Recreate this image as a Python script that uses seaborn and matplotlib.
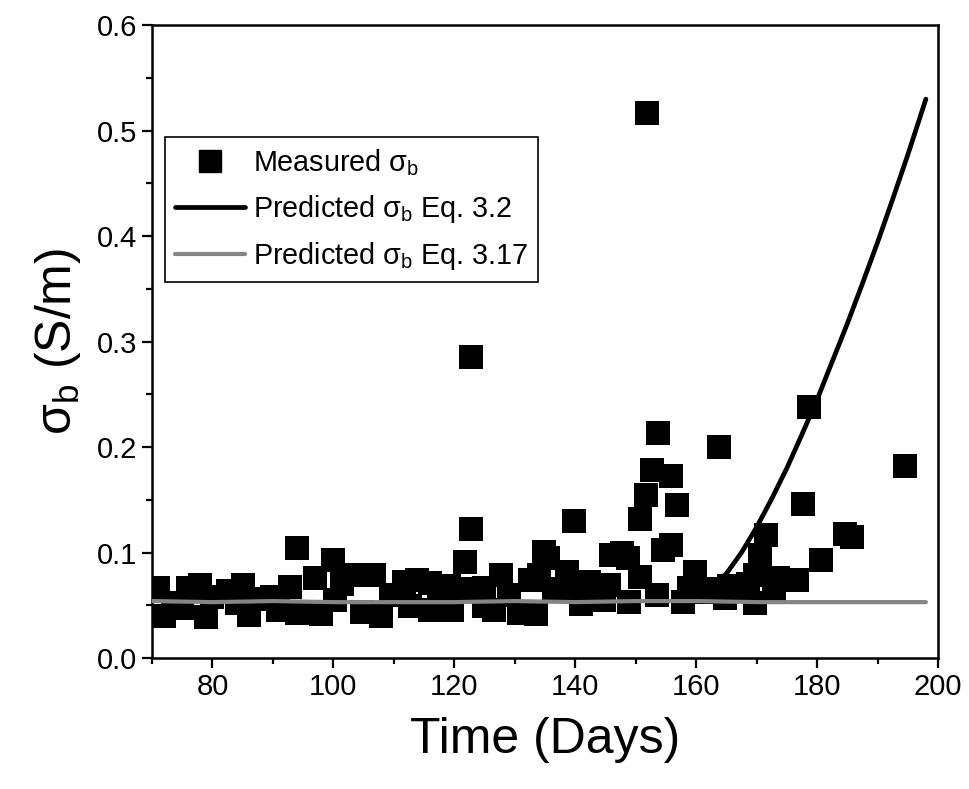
import matplotlib
matplotlib.use("Agg")
import matplotlib.pyplot as plt
import seaborn as sns
import pandas as pd
from matplotlib.ticker import MultipleLocator
from matplotlib.lines import Line2D

# ---- data ----
meas_day = [71, 72, 73.5, 75, 76, 78, 79, 80, 82.5, 84, 85, 86, 88, 89.8, 90.8,
            92.8, 93.9, 93.9, 96.9, 97.9, 99.9, 100.3, 101.5, 103.8, 104.8, 106.8,
            107.8, 109.5, 111.7, 112.7, 113.9, 115.9, 116, 117.5, 119.2, 119.7, 121,
            121.8, 122.8, 122.8, 124.9, 124.9, 126.6, 127.8, 129, 130.7, 132.5,
            133.5, 134, 134.8, 135.5, 136.5, 138.6, 139.8, 139.8, 141, 142.3, 144.7,
            145.6, 145.9, 147.7, 148.7, 148.9, 150.7, 150.7, 151.8, 151.7, 152.7,
            153.7, 154.6, 155.8, 155.8, 156.8, 153.5, 157.8, 158.8, 159.8, 161.7,
            163.5, 164.7, 163.7, 165.5, 167, 168.5, 169.7, 169.8, 170.6, 171.6,
            172.8, 173.6, 176.6, 177.7, 178.6, 180.6, 184.7, 185.7, 194.6]
meas_sigma = [0.066, 0.040, 0.052, 0.047, 0.066, 0.069, 0.039, 0.058, 0.064, 0.052,
              0.069, 0.041, 0.056, 0.058, 0.046, 0.067, 0.104, 0.043, 0.076, 0.042,
              0.093, 0.055, 0.070, 0.079, 0.044, 0.079, 0.040, 0.060, 0.072, 0.049,
              0.074, 0.046, 0.071, 0.055, 0.068, 0.046, 0.065, 0.091, 0.285, 0.122,
              0.066, 0.049, 0.046, 0.079, 0.060, 0.043, 0.074, 0.042, 0.079, 0.101,
              0.095, 0.065, 0.082, 0.130, 0.064, 0.051, 0.072, 0.055, 0.069, 0.098,
              0.100, 0.095, 0.053, 0.132, 0.077, 0.517, 0.155, 0.178, 0.213, 0.102,
              0.107, 0.173, 0.145, 0.060, 0.053, 0.066, 0.082, 0.063, 0.065, 0.057,
              0.200, 0.068, 0.066, 0.070, 0.052, 0.079, 0.098, 0.117, 0.064, 0.076,
              0.074, 0.146, 0.238, 0.093, 0.118, 0.115, 0.182]

eq32_day = [163, 165, 167.5, 170, 172.5, 175, 177.5, 180, 182.5, 185, 187.5, 190,
            192.5, 195, 198]
eq32_sigma = [0.070, 0.080, 0.100, 0.124, 0.151, 0.180, 0.212, 0.245, 0.281, 0.317,
              0.355, 0.394, 0.435, 0.477, 0.530]

eq317_day = [70, 80, 90, 100, 110, 120, 130, 140, 150, 160, 170, 180, 190, 198]
eq317_sigma = [0.054, 0.053, 0.054, 0.053, 0.053, 0.053, 0.054, 0.053, 0.054, 0.054,
               0.053, 0.053, 0.053, 0.053]

x_ticks = [80, 100, 120, 140, 160, 180, 200]
y_ticks = [0.0, 0.1, 0.2, 0.3, 0.4, 0.5, 0.6]

df_meas = pd.DataFrame({"day": meas_day, "sigma": meas_sigma})
df_32 = pd.DataFrame({"day": eq32_day, "sigma": eq32_sigma})
df_317 = pd.DataFrame({"day": eq317_day, "sigma": eq317_sigma})

sns.set_style("ticks")
plt.rcParams["font.family"] = ["Liberation Sans", "DejaVu Sans"]
plt.rcParams["mathtext.fontset"] = "custom"
plt.rcParams["mathtext.rm"] = "Liberation Sans"
plt.rcParams["mathtext.it"] = "Liberation Sans:italic"
plt.rcParams["text.color"] = "black"
plt.rcParams["axes.labelcolor"] = "black"
plt.rcParams["xtick.color"] = "black"
plt.rcParams["ytick.color"] = "black"

fig = plt.figure(figsize=(9.70, 7.89), dpi=100)
ax = fig.add_axes([0.1567, 0.166, 0.8103, 0.802])

sns.scatterplot(data=df_meas, x="day", y="sigma", marker="s", s=275, color="black",
                edgecolor="black", linewidth=0, ax=ax, zorder=2, legend=False)
sns.lineplot(data=df_32, x="day", y="sigma", color="black", linewidth=3.4, ax=ax,
             zorder=3, legend=False)
sns.lineplot(data=df_317, x="day", y="sigma", color="#858585", linewidth=3.0, ax=ax,
             zorder=3, legend=False)

ax.set_xlim(70, 200)
ax.set_ylim(0, 0.6)
ax.set_xticks(x_ticks)
ax.set_yticks(y_ticks)
ax.set_yticklabels([f"{v:.1f}" for v in y_ticks])
ax.xaxis.set_minor_locator(MultipleLocator(10))
ax.yaxis.set_minor_locator(MultipleLocator(0.05))
ax.tick_params(which="major", direction="out", length=7, width=1.6, labelsize=21,
               top=False, right=False, colors="black")
ax.tick_params(which="minor", direction="out", length=4.5, width=1.6,
               top=False, right=False, colors="black")
for sp in ax.spines.values():
    sp.set_visible(True)
    sp.set_linewidth(1.8)
    sp.set_color("black")

ax.set_xlabel("Time (Days)", fontsize=36, labelpad=12, color="black")
ax.set_ylabel(r"σ$_\mathregular{b}$ (S/m)", fontsize=36, labelpad=10, color="black")

handles = [
    Line2D([], [], marker="s", color="black", linestyle="none", markersize=16),
    Line2D([], [], color="black", linewidth=3.4),
    Line2D([], [], color="#858585", linewidth=3.0),
]
labels = [r"Measured σ$_\mathregular{b}$",
          r"Predicted σ$_\mathregular{b}$ Eq. 3.2",
          r"Predicted σ$_\mathregular{b}$ Eq. 3.17"]
leg = ax.legend(handles, labels, loc="upper left", bbox_to_anchor=(0.0165, 0.823),
                fontsize=20.7, frameon=True, fancybox=False, framealpha=1,
                edgecolor="black", handlelength=2.45, handletextpad=0.25,
                labelspacing=0.52, borderpad=0.35, borderaxespad=0)
leg.get_frame().set_linewidth(1.2)
for t in leg.get_texts():
    t.set_color("black")

fig.savefig("out.png", dpi=100)
